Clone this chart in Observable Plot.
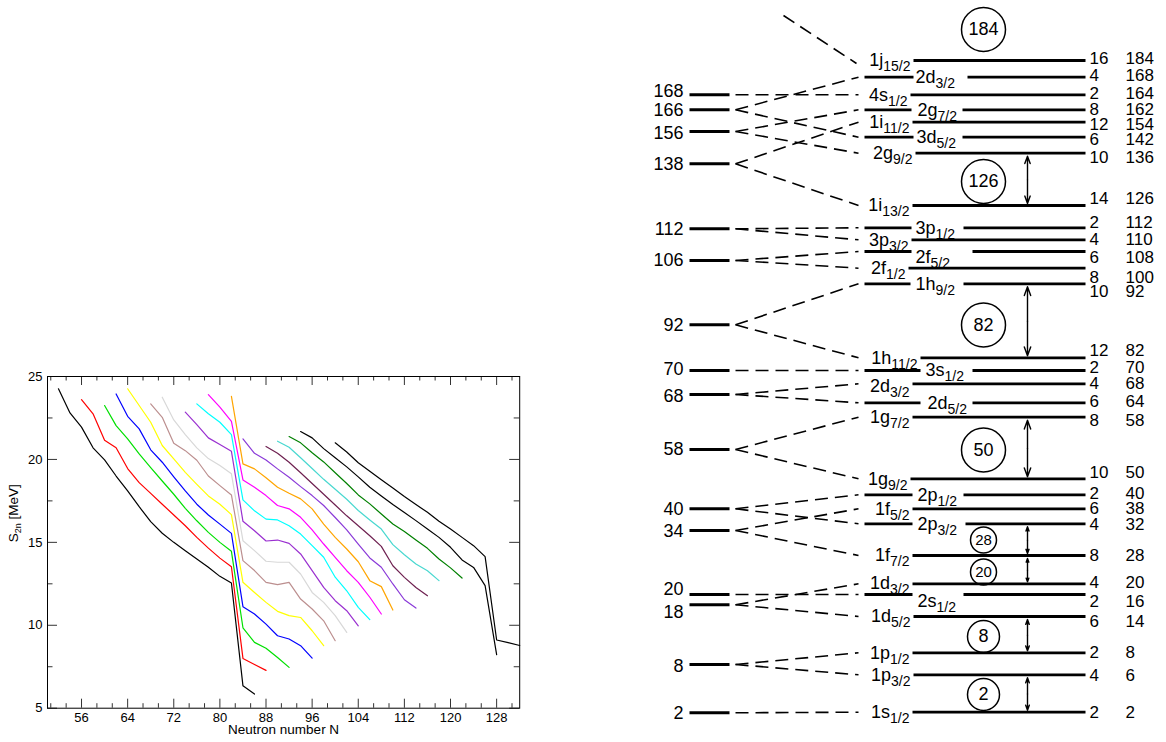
<!DOCTYPE html>
<html><head><meta charset="utf-8">
<script src="https://cdn.jsdelivr.net/npm/d3@7"></script>
<script src="https://cdn.jsdelivr.net/npm/@observablehq/plot@0.6"></script>
<style>
html,body{margin:0;padding:0;background:#fff;}
#wrap{position:relative;width:1166px;height:742px;overflow:hidden;background:#fff;}
#left{position:absolute;left:0;top:0;}
#right{position:absolute;left:600px;top:0;}
</style></head><body><div id="wrap"><div id="left"></div><div id="right"></div></div>
<script>
// ---------------- LEFT CHART DATA: S2n [MeV] vs neutron number N (even N, step 2) ----------------
const s2nBlackA   = [24.26,22.8,21.95,20.7,19.97,19.0,18.1,17.15,16.25,15.55,15.0,14.5,14.0,13.5,12.95,12.55,6.35,5.85]; // N 52..86
const s2nRed      = [23.6,22.75,21.15,20.7,19.45,18.6,17.95,17.3,16.65,16.0,15.3,14.65,14.05,13.53,8.0,7.64,7.28];       // N 56..88
const s2nLime     = [23.25,22.04,21.24,20.33,19.5,18.7,17.9,17.05,16.3,15.6,15.0,14.46,9.85,8.97,8.62,8.06,7.46];        // N 60..92
const s2nBlue     = [23.95,22.6,21.84,20.58,19.83,18.95,18.1,17.3,16.65,16.1,15.54,11.12,10.68,10.07,9.37,9.17,8.77,8.02]; // N 62..96
const s2nYellow   = [24.26,23.25,22.24,20.84,20.03,19.22,18.5,17.8,17.3,16.67,12.59,11.98,11.38,10.84,10.58,10.47,9.67,8.77]; // N 64..98
const s2nBrown    = [23.35,22.54,20.98,20.53,19.95,19.0,18.42,17.86,13.9,13.3,12.59,12.45,12.59,11.58,10.98,10.27,9.07];   // N 68..100
const s2nGray     = [23.75,22.38,21.5,20.7,20.05,19.63,19.13,15.1,14.5,13.86,13.8,13.8,13.09,11.98,11.38,10.58,9.57];    // N 70..102
const s2nViolet   = [22.85,22.1,21.3,20.9,20.49,16.27,15.7,15.08,15.14,14.94,14.3,13.29,12.28,11.48,10.88,9.97];         // N 74..104
const s2nCyan     = [23.35,22.75,22.24,21.5,17.56,16.9,16.4,16.35,16.0,15.5,14.8,14.1,12.9,12.08,11.08,10.34];          // N 76..106
const s2nMagenta  = [23.91,23.15,22.3,18.76,18.32,17.82,17.22,17.02,16.51,15.75,14.9,14.1,13.29,12.59,11.69,10.68];      // N 78..108
const s2nOrange   = [23.8,19.73,19.43,18.89,18.32,17.96,17.62,17.02,16.1,15.3,14.6,13.83,12.69,12.33,10.92];             // N 82..110
const s2nPurple   = [21.24,20.37,19.97,19.43,18.92,18.36,17.82,17.22,16.5,15.75,14.9,14.06,13.5,12.49,11.54,11.04];      // N 84..114
const s2nMaroon   = [20.78,20.37,19.83,19.2,18.55,17.9,17.25,16.6,16.0,15.4,14.76,13.59,12.89,12.28,11.78];              // N 88..116
const s2nTurq     = [21.1,20.73,20.1,19.45,18.8,18.2,17.6,16.92,16.35,15.8,14.86,14.25,13.7,13.29,12.69];                // N 90..118
const s2nGreen    = [21.38,21.0,20.4,19.85,19.2,18.55,17.86,17.32,16.71,16.11,15.66,15.14,14.64,14.0,13.46,12.85];       // N 92..122
const s2nBlackB   = [21.68,21.3,20.65,20.1,19.55,18.95,18.32,17.8,17.28,16.8,16.31,15.8,15.3,14.7,13.94,13.49,12.39,8.23]; // N 94..128
const s2nBlackC   = [21.0,20.45,19.8,19.29,18.78,18.28,17.76,17.28,16.81,16.27,15.81,15.3,14.8,14.14,9.11,8.95,8.78];     // N 100..132
const chainStartN = [52,56,60,62,64,68,70,74,76,78,82,84,88,90,92,94,100];
const chainValues = [s2nBlackA,s2nRed,s2nLime,s2nBlue,s2nYellow,s2nBrown,s2nGray,s2nViolet,s2nCyan,s2nMagenta,s2nOrange,s2nPurple,s2nMaroon,s2nTurq,s2nGreen,s2nBlackB,s2nBlackC];
const chainColors = ["#000000","#ff0000","#00e000","#0000ff","#ffff00","#bc8f8f","#d8d8d8","#9a30d0","#00ffff","#ff00ff","#ffa500","#8a3ad8","#6e2050","#48d8d0","#008000","#000000","#000000"];
const xTickLabels = [56,64,72,80,88,96,104,112,120,128];
const yTickLabels = [5,10,15,20,25];
const yMinorTicks = [7.5,12.5,17.5,22.5];

// ---------------- RIGHT DIAGRAM DATA: shell-model levels ----------------
const shellNumbers   = [168,166,156,138,112,106,92,70,68,58,40,34,20,18,8,2];
const shellLevel     = [94.3,109.3,131,163.3,228.3,260,324.3,370,394,449,508.3,530,594,604.3,664,712.3]; // level height (picture units, top = high energy)
const orbitName      = ["1j","2d","4s","2g","1i","3d","2g","1i","3p","3p","2f","2f","1h","1h","3s","2d","2d","1g","1g","2p","1f","2p","1f","1d","2s","1d","1p","1p","1s"];
const orbitJ         = ["15/2","3/2","1/2","7/2","11/2","5/2","9/2","13/2","1/2","3/2","5/2","1/2","9/2","11/2","1/2","3/2","5/2","7/2","9/2","1/2","5/2","3/2","7/2","3/2","1/2","5/2","1/2","3/2","1/2"];
const orbitDegen     = [16,4,2,8,12,6,10,14,2,4,6,8,10,12,2,4,6,8,10,2,6,4,8,4,2,6,2,4,2];
const orbitTotal     = [184,168,164,162,154,142,136,126,112,110,108,100,92,82,70,68,64,58,50,40,38,32,28,20,16,14,8,6,2];
const orbitLevel     = [60,76.7,94.3,109.3,121.7,136.7,152.7,205,227.3,239.3,251,267.7,283.3,357.3,370,383.3,402.3,416.7,478.3,494.3,508.3,523.3,555,583.3,594,616,652.3,674.3,711.7];
const splits = [[168,164],[166,168],[166,142],[156,162],[156,136],[138,154],[138,126],[112,112],[112,110],[106,108],[106,100],[92,92],[92,82],[70,70],[68,68],[68,64],[58,58],[58,50],[40,40],[40,32],[34,38],[34,28],[20,16],[18,20],[18,14],[8,8],[8,6],[2,2]];
const feedFrom = [{level: 15, to: 184}];      // dashed feed from the (off-picture) 184 shell
const magicNumbers = [184,126,82,50,28,20,8,2];
const magicLevel   = [29,181,324.5,449.5,539.5,571.5,636,694];
const gapArrows    = [[136,126],[92,82],[58,50],[32,28],[28,20],[14,8],[6,2]];

// ---------------- layout / style (not data) ----------------
const labelStyle = ["L","I","L","I","L","I","L","L","I","L","I","L","I","L","I","L","I","L","L","I","L","I","L","L","I","L","L","L","L"];
const lineStart  = [913,967,910,962,912,962,915,912,963,911,972,908,963,920,972,912,972,912,910,963,912,965,912,912,963,913,912,913,912];
const inlineX    = {1:915,3:917,5:916,8:915,10:915,12:915,14:925,16:927,19:917,21:917,24:917};
const shortEnd   = {1:913,3:911,5:913,8:911,10:911,12:910,14:920,16:920,19:912,21:912,24:912};
const labelDy    = {10:6,15:2,23:-1,24:7};
const numDy      = [-2,-2,-1,0,2,2,4,-6.5,-5.5,0,6,9,8,-7,-3,0,-1,3,-6,-1,0,1,0,-1,7,5,0,1,0];
const shellDy    = [-4,0,2,0,0,0,0,-1,2,0,0,1,-5,7.5,1.5,0];
const LY = {shellLabelX:683, shellX1:689, shellX2:729, dashX1:735, dashX2:858, feedX1:783,
            shortX1:864, levelX2:1085, degX:1089, totX:1125, arrowX:1027, circleX:983};
const FONT = "'Liberation Sans', Arial, Helvetica, sans-serif";

function applySubs(svg, subSize, shift) {
  d3.select(svg).selectAll("text").each(function () {
    const t = this.textContent;
    if (!t.includes("_")) return;
    const parts = t.split("_");
    const sel = d3.select(this);
    sel.text(null);
    parts.forEach((p, k) => {
      if (p === "") return;
      const ts = sel.append("tspan").text(p);
      if (k % 2 === 1) ts.attr("dy", shift).attr("font-size", subSize);
      else if (k > 0) ts.attr("dy", -shift);
    });
  });
}

// ---------------- LEFT CHART ----------------
const rows = [];
chainValues.forEach((vals, k) => vals.forEach((v, i) => rows.push({N: chainStartN[k] + 2 * i, S: v, k, color: chainColors[k]})));
const xMinorTicks = [];
[48, ...xTickLabels].forEach(m => [8/3, 16/3].forEach(o => { if (m + o < 132) xMinorTicks.push(m + o); }));

const yPx = 331.4 / 20, xPx = 472.2 / 81.9;
const tyMaj = 9 / yPx, tyMin = 4.5 / yPx, txMaj = 10 / xPx, txMin = 5.5 / xPx;
const X0 = 50.1, X1 = 132;
const tickStroke = "#333";

const leftPlot = Plot.plot({
  width: 600, height: 742,
  marginLeft: 47, marginRight: 80.8, marginTop: 376, marginBottom: 34.3,
  x: {domain: [X0, X1]},
  y: {domain: [5, 25]},
  style: {fontFamily: FONT, fontSize: "13px", background: "transparent", color: "#000"},
  marks: [
    Plot.line(rows, {x: "N", y: "S", z: "k", stroke: "color", strokeWidth: 1.2}),
    Plot.ruleX(xTickLabels, {x: d => d, y1: 5, y2: 5 + tyMaj, stroke: tickStroke}),
    Plot.ruleX(xMinorTicks, {x: d => d, y1: 5, y2: 5 + tyMin, stroke: tickStroke}),
    Plot.ruleX(xTickLabels, {x: d => d, y1: 25, y2: 25 - tyMaj, stroke: tickStroke}),
    Plot.ruleX(xMinorTicks, {x: d => d, y1: 25, y2: 25 - tyMin, stroke: tickStroke}),
    Plot.ruleY(yTickLabels, {y: d => d, x1: X0, x2: X0 + txMaj, stroke: tickStroke}),
    Plot.ruleY(yMinorTicks, {y: d => d, x1: X0, x2: X0 + txMin, stroke: tickStroke}),
    Plot.ruleY(yTickLabels, {y: d => d, x1: X1, x2: X1 - txMaj, stroke: tickStroke}),
    Plot.ruleY(yMinorTicks, {y: d => d, x1: X1, x2: X1 - txMin, stroke: tickStroke}),
    Plot.frame({stroke: "#000", strokeWidth: 1}),
    Plot.axisX({ticks: xTickLabels, tickSize: 0, tickPadding: 5, label: null, tickFormat: d => String(d), fontSize: 13}),
    Plot.axisY({ticks: yTickLabels, tickSize: 0, tickPadding: 5, label: null, tickFormat: d => String(d), fontSize: 13}),
    Plot.text(["Neutron number N"], {frameAnchor: "bottom", dy: 26, fontSize: 13.5}),
    Plot.text(["S_2n_ [MeV]"], {frameAnchor: "left", dx: -34, rotate: -90, fontSize: 13.5})
  ]
});
applySubs(leftPlot, 9, 3);
document.getElementById("left").appendChild(leftPlot);

// ---------------- RIGHT DIAGRAM ----------------
const levels = orbitName.map((n, i) => ({i, name: n, j: orbitJ[i], deg: orbitDegen[i], tot: orbitTotal[i], E: orbitLevel[i]}));
const byTot = new Map(levels.map(d => [d.tot, d]));
const shells = shellNumbers.map((n, i) => ({i, n, E: shellLevel[i]}));
const byShell = new Map(shells.map(d => [d.n, d]));
const splitRows = splits.map(([s, t]) => ({y1: byShell.get(s).E, y2: byTot.get(t).E}));
const segs = [];
levels.forEach((d, i) => {
  segs.push({x1: lineStart[i], x2: LY.levelX2, y: d.E});
  if (labelStyle[i] === "I") segs.push({x1: LY.shortX1, x2: shortEnd[i], y: d.E});
});
const magic = magicNumbers.map((m, i) => ({m, E: magicLevel[i]}));
const arrowRows = gapArrows.map(([a, b]) => ({top: byTot.get(a).E + 3, bot: byTot.get(b).E - 2}));
const dash = "13,7";

const rightPlot = Plot.plot({
  width: 566, height: 742, margin: 0,
  x: {domain: [600, 1166], range: [0, 566], axis: null},
  y: {domain: [0, 742], range: [0, 742], axis: null},
  style: {fontFamily: FONT, fontSize: "18px", background: "transparent", color: "#000"},
  marks: [
    // left column: unsplit shells
    Plot.link(shells, {x1: LY.shellX1, x2: LY.shellX2, y1: "E", y2: "E", stroke: "#000", strokeWidth: 3}),
    Plot.text(shells, {x: LY.shellLabelX, y: d => d.E + shellDy[d.i], text: d => String(d.n), textAnchor: "end", fontSize: 18}),
    // dashed spin-orbit splitting connectors
    Plot.link(splitRows, {x1: LY.dashX1, x2: LY.dashX2, y1: "y1", y2: "y2", stroke: "#000", strokeWidth: 1.6, strokeDasharray: dash}),
    Plot.link(feedFrom, {x1: LY.feedX1, x2: LY.dashX2 - 2, y1: "level", y2: d => byTot.get(d.to).E + 3, stroke: "#000", strokeWidth: 1.6, strokeDasharray: dash}),
    // right column levels
    Plot.link(segs, {x1: "x1", x2: "x2", y1: "y", y2: "y", stroke: "#000", strokeWidth: 2.8}),
    Plot.text(levels.filter(d => labelStyle[d.i] === "L"), {x: d => lineStart[d.i] - 3, y: d => d.E + (labelDy[d.i] || 0), text: d => d.name + "_" + d.j, textAnchor: "end", fontSize: 18}),
    Plot.text(levels.filter(d => labelStyle[d.i] === "I"), {x: d => inlineX[d.i], y: d => d.E + (labelDy[d.i] || 0), text: d => d.name + "_" + d.j, textAnchor: "start", fontSize: 18}),
    Plot.text(levels, {x: LY.degX, y: d => d.E + numDy[d.i], text: d => String(d.deg), textAnchor: "start", fontSize: 17}),
    Plot.text(levels, {x: LY.totX, y: d => d.E + numDy[d.i], text: d => String(d.tot), textAnchor: "start", fontSize: 17}),
    // magic-number circles
    Plot.dot(magic.filter(d => d.m >= 50), {x: LY.circleX, y: "E", r: 22, stroke: "#000", strokeWidth: 1.5, fill: "none"}),
    Plot.dot(magic.filter(d => d.m === 28 || d.m === 20), {x: LY.circleX, y: "E", r: 13, stroke: "#000", strokeWidth: 1.5, fill: "none"}),
    Plot.dot(magic.filter(d => d.m < 20), {x: LY.circleX, y: "E", r: 16, stroke: "#000", strokeWidth: 1.5, fill: "none"}),
    Plot.text(magic.filter(d => d.m >= 50 || d.m < 20), {x: LY.circleX, y: "E", text: d => String(d.m), fontSize: 18}),
    Plot.text(magic.filter(d => d.m === 28 || d.m === 20), {x: LY.circleX, y: "E", text: d => String(d.m), fontSize: 15}),
    // gap arrows (double headed)
    Plot.arrow(arrowRows, {x1: LY.arrowX, x2: LY.arrowX, y1: d => (d.top + d.bot) / 2, y2: "top", bend: 0, headLength: 10, headAngle: 40, stroke: "#000", strokeWidth: 1.4}),
    Plot.arrow(arrowRows, {x1: LY.arrowX, x2: LY.arrowX, y1: d => (d.top + d.bot) / 2, y2: "bot", bend: 0, headLength: 10, headAngle: 40, stroke: "#000", strokeWidth: 1.4})
  ]
});
applySubs(rightPlot, 14, 5);
document.getElementById("right").appendChild(rightPlot);
</script>
</body></html>
